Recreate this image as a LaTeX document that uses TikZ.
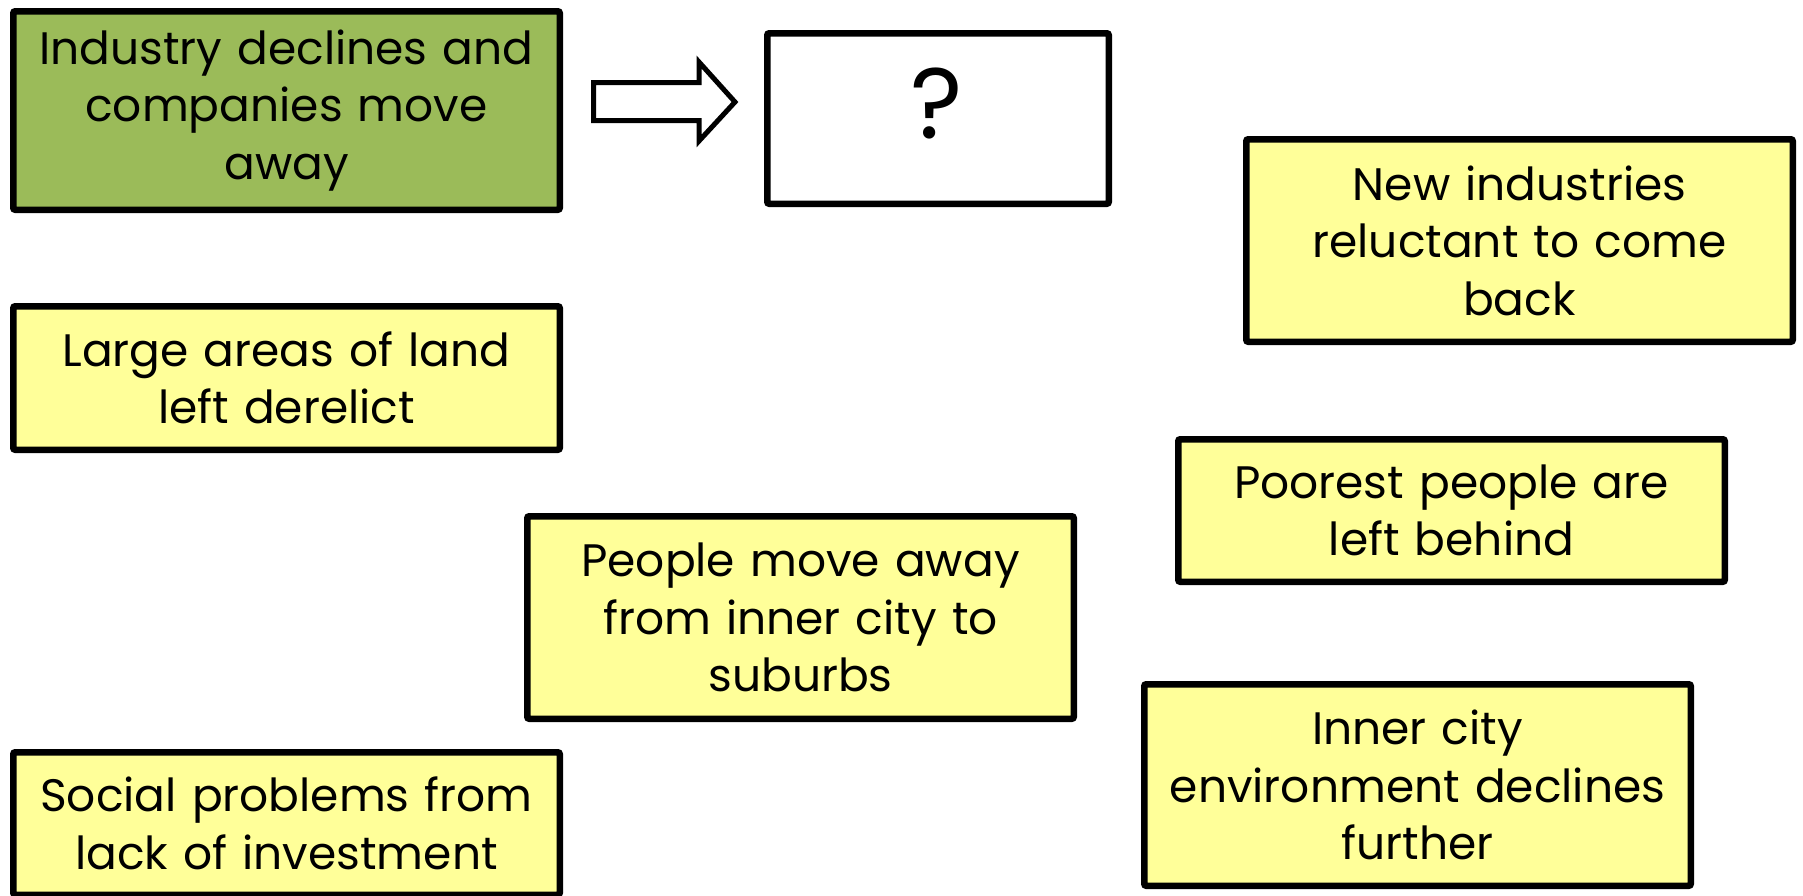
\documentclass[tikz,border=0pt]{standalone}
\usepackage{fontspec}
\setmainfont{Poppins}
\definecolor{boxgreen}{HTML}{9BBB59}
\definecolor{boxyellow}{HTML}{FFFF99}
\begin{document}
\begin{tikzpicture}[x=1pt,y=-1pt,
  card/.style={draw=black, line width=6.5pt, rounded corners=2pt, align=center,
    inner sep=0pt, minimum width=546.5pt, text width=540pt,
    font=\fontsize{45.5}{57.5}\selectfont},
  yellowcard/.style={card, fill=boxyellow},
  greencard/.style={card, fill=boxgreen},
  blockarrow/.style={draw=black, line width=5pt, fill=white, line join=miter}]
\useasboundingbox (0,0) rectangle (1803,895);
\node[greencard, minimum height=198.5pt] (ind) at (286.5,110.5)
  {Industry declines and\\companies move\\away};
\node[card, fill=white, minimum width=341.5pt, text width=330pt, minimum height=170.5pt] (q) at (938,118.5) {};
\node[font=\fontsize{100}{100}\selectfont, inner sep=0pt] (qm) at (937,103) {?};
\node[yellowcard, minimum height=143.5pt] (land) at (286.5,378)
  {Large areas of land\\left derelict};
\node[yellowcard, minimum height=202.5pt] (newind) at (1519.5,240.5)
  {New industries\\reluctant to come\\back};
\node[yellowcard, minimum height=142.5pt] (poor) at (1451.5,510.5)
  {Poorest people are\\left behind};
\node[yellowcard, minimum height=202.5pt] (people) at (800.5,617.5)
  {People move away\\from inner city to\\suburbs};
\node[yellowcard, minimum height=142.5pt] (social) at (286.5,823.5)
  {Social problems from\\lack of investment};
\node[yellowcard, minimum height=201.5pt] (inner) at (1417.5,785)
  {Inner city\\environment declines\\further};
\draw[blockarrow] (593.5,82.5) -- (699,82.5) -- (699,62) -- (735,102) -- (699,141)
  -- (699,120.5) -- (593.5,120.5) -- cycle;
\end{tikzpicture}
\end{document}
